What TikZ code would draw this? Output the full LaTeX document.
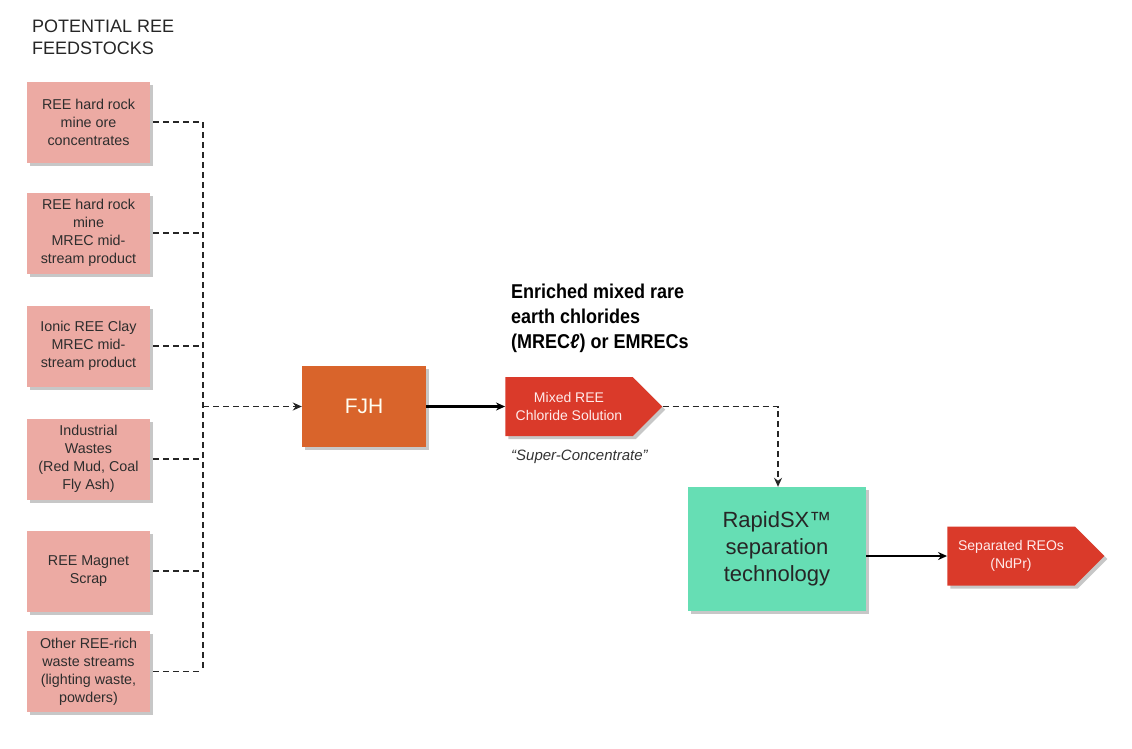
\documentclass[tikz,border=0pt]{standalone}
\usepackage{fontspec}
\setmainfont{Liberation Sans}
\newfontfamily\condbold[FakeStretch=0.9]{Liberation Sans Bold}
\usetikzlibrary{arrows.meta,shadows,shapes.symbols}
\definecolor{feedfill}{RGB}{236,170,163}
\definecolor{fjhfill}{RGB}{217,100,43}
\definecolor{redfill}{RGB}{218,58,42}
\definecolor{mintfill}{RGB}{102,222,180}
\definecolor{feedtext}{RGB}{45,45,45}
\tikzset{
  boxshadow/.style={drop shadow={shadow xshift=3pt,shadow yshift=-3pt,fill=black,opacity=0.22}},
  feedbox/.style={rectangle,fill=feedfill,boxshadow,minimum width=123pt,minimum height=81pt,inner sep=0pt,align=center,text=feedtext,font=\fontsize{14.3}{18}\selectfont},
  fjhbox/.style={rectangle,fill=fjhfill,boxshadow,minimum width=124pt,minimum height=81pt,inner sep=0pt,text=white!95!yellow,font=\fontsize{21}{25}\selectfont},
  sxbox/.style={rectangle,fill=mintfill,boxshadow,minimum width=178pt,minimum height=124pt,inner sep=0pt,align=center,text=black!85,font=\fontsize{22}{27}\selectfont},
  arrowbox/.style={signal,signal to=east,signal from=nowhere,signal pointer angle=90,fill=redfill,boxshadow,minimum width=157pt,minimum height=59pt,inner sep=0pt,align=center,text=white!92!red,font=\fontsize{14}{18}\selectfont},
  dashline/.style={draw=black!85,line width=1.6pt,dash pattern=on 6pt off 4pt},
  solidline/.style={draw=black,line width=2.4pt},
  tip/.style={-{Stealth[length=9pt,width=8pt]}},
}
\begin{document}
\begin{tikzpicture}[x=1pt,y=-1pt]
\useasboundingbox (0,0) rectangle (1132,748);
\fill[white] (0,0) rectangle (1132,748);
\node[anchor=north west,align=left,text=black!85,font=\fontsize{18}{22}\selectfont,inner sep=0pt] (title) at (32,20) {POTENTIAL REE\\FEEDSTOCKS};
\node[feedbox] (f1) at (88.5,122) {REE hard rock\\mine ore\\concentrates};
\node[feedbox] (f2) at (88.5,233) {REE hard rock\\mine\\MREC mid-\\stream product};
\node[feedbox] (f3) at (88.5,346) {Ionic REE Clay\\MREC mid-\\stream product};
\node[feedbox] (f4) at (88.5,459) {Industrial\\Wastes\\(Red Mud, Coal\\Fly Ash)};
\node[feedbox] (f5) at (88.5,571) {REE Magnet\\Scrap};
\node[feedbox] (f6) at (88.5,671.5) {Other REE-rich\\waste streams\\(lighting waste,\\powders)};
\node[fjhbox] (fjh) at (364,406.5) {FJH};
\node[arrowbox] (mix) at (569,406.5) {Mixed REE\\Chloride Solution};
\node[anchor=north west,align=left,inner sep=0pt,font=\condbold\fontsize{20}{25}\selectfont] (hdr) at (511,284) {Enriched mixed rare\\earth chlorides\\(MREC\textit{ℓ}) or EMRECs};
\node[anchor=west,inner sep=0pt,text=black!80,font=\itshape\fontsize{15}{18}\selectfont] (sc) at (511,457) {“Super-Concentrate”};
\node[sxbox] (sx) at (777,549) {RapidSX™\\separation\\technology};
\node[arrowbox] (reo) at (1011,556) {Separated REOs\\(NdPr)};
\coordinate (bus) at (203,406.5);
\coordinate (turn) at (778,406.5);
\foreach \i in {1,...,6} {\draw[dashline] (f\i.east) ++(3,0) -- (f\i.east -| bus);}
\draw[dashline] (f1.east -| bus) -- (f6.east -| bus);
\draw[dashline,tip] (bus) -- (fjh.west);
\draw[solidline,tip] (fjh.east) -- (mix.west);
\draw[dashline,tip] (mix.east) -- (turn) -- (sx.north -| turn);
\draw[solidline,tip] (sx.east |- reo.west) -- (reo.west);
\end{tikzpicture}
\end{document}
